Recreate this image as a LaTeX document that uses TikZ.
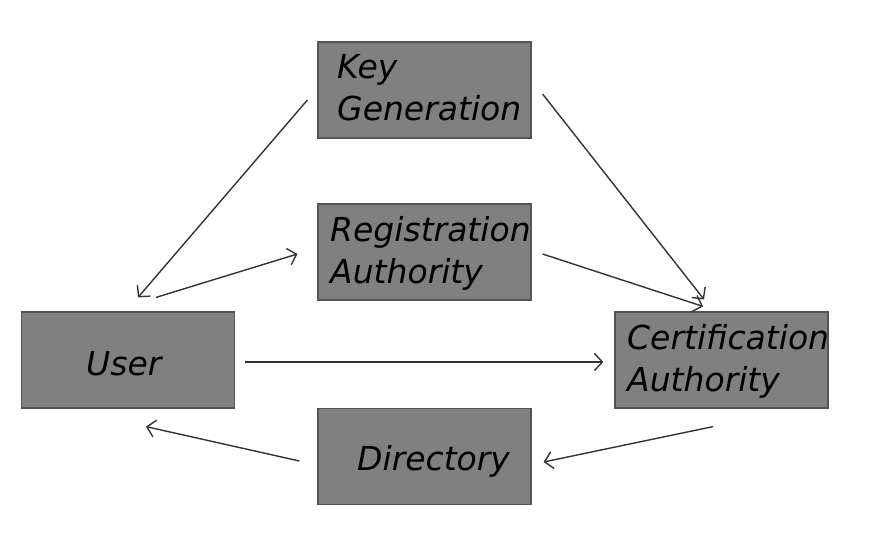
\documentclass[tikz,border=0pt]{standalone}
\usepackage{fontspec}
\setmainfont{DejaVu Sans}
\usetikzlibrary{arrows.meta,calc}
\definecolor{boxfill}{HTML}{808080}
\definecolor{boxline}{HTML}{555555}
\definecolor{arrowc}{HTML}{333333}
\tikzset{
  box/.style={draw=boxline, fill=boxfill, line width=1.2pt, minimum width=213, minimum height=96, inner sep=0pt},
  lbl/.style={anchor=base west, inner sep=0pt, align=left, font=\fontsize{33}{42}\selectfont\itshape, text=black},
  conn/.style={draw=arrowc, line width=1.4pt, -{Straight Barb[length=8pt,width=17pt,line width=1.4pt]}}
}
\begin{document}
\begin{tikzpicture}[x=1pt,y=-1pt]
\useasboundingbox (0,0) rectangle (886,554);
\node[box] (kg) at (424.5,90) {};
\node[box] (ra) at (424.5,252) {};
\node[box] (user) at (128,360) {};
\node[box] (ca) at (721.5,360) {};
\node[box] (dir) at (424.5,456.5) {};
\node[lbl] (kgt) at (337,120) {Key\\Generation};
\node[lbl] (rat) at (330,283) {Registration\\Authority};
\node[lbl] (usert) at (86,375) {User};
\node[lbl] (cat) at (627,391) {Certification\\Authority};
\node[lbl] (dirt) at (357,470) {Directory};
\draw[conn] ($(kg.west)+(-10,10)$) -- ($(user.north)+(10,-14)$);
\draw[conn] ($(user.north)+(28,-14)$) -- ($(ra.west)+(-20,2)$);
\draw[conn] ($(kg.east)+(11,4)$) -- ($(ca.north)+(-17.5,-12)$);
\draw[conn] ($(ra.east)+(11,2)$) -- ($(ca.north)+(-18.5,-5)$);
\draw[conn] ($(user.east)+(10,2)$) -- ($(ca.west)+(-11,2)$);
\draw[conn] ($(ca.south)+(-8.5,18)$) -- ($(dir.east)+(12,5.5)$);
\draw[conn] ($(dir.west)+(-18,4.5)$) -- ($(user.south)+(18,18)$);
\end{tikzpicture}
\end{document}
